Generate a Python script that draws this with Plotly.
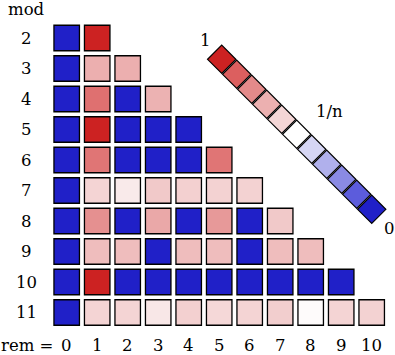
import math
import plotly.graph_objects as go

# ---- data -------------------------------------------------------------
moduli = [2, 3, 4, 5, 6, 7, 8, 9, 10, 11]
remainders = [0, 1, 2, 3, 4, 5, 6, 7, 8, 9, 10]

mod2 = [0, 1.0]
mod3 = [0, 0.52, 0.52]
mod4 = [0, 0.68, 0, 0.43]
mod5 = [0, 1.0, 0, 0, 0]
mod6 = [0, 0.58, 0, 0, 0, 0.58]
mod7 = [0, 0.215, 0.174, 0.242, 0.224, 0.219, 0.219]
mod8 = [0, 0.409, 0, 0.312, 0, 0.369, 0, 0.219]
mod9 = [0, 0.229, 0.229, 0, 0.229, 0.229, 0, 0.229, 0.229]
mod10 = [0, 1.0, 0, 0, 0, 0, 0, 0, 0, 0]
mod11 = [0, 0.150, 0.150, 0.121, 0.158, 0.143, 0.150, 0.162, 0.095, 0.150, 0.154]

rows = [mod2, mod3, mod4, mod5, mod6, mod7, mod8, mod9, mod10, mod11]

legend_labels = ["1", "1/n", "0"]
legend_levels = [1.0, 0.9, 0.8, 0.7, 0.6, 0.5, 0.4, 0.3, 0.2, 0.1, 0.0]

# ---- colour scale: 0 -> blue, 1/n -> white, 1 -> red (log) -------------
colorscale = [
    [0.0, "#2020C8"], [0.1, "#5C5CDC"], [0.2, "#8A8AE4"], [0.3, "#B0B0EC"],
    [0.4, "#D6D6F4"], [0.5, "#FFFFFF"], [0.6, "#F4D6D6"], [0.7, "#ECB0B0"],
    [0.8, "#E48A8A"], [0.9, "#DC5F5F"], [1.0, "#CC2222"],
]


def scale(v, n):
    if v <= 0:
        return 0.0
    c = 0.5 + 0.5 * math.log(v * n) / math.log(n)
    return max(0.0, min(1.0, c))


xs, ys, cs, hov = [], [], [], []
for n, vals in zip(moduli, rows):
    for r, v in zip(remainders, vals):
        xs.append(r)
        ys.append(n)
        cs.append(scale(v, n))
        hov.append(f"mod {n}, rem {r}: {v}")

# ---- pixel <-> data helpers (layout only) -----------------------------
W, H = 395, 355
X0, Y0, STEP = 66.7, 38.0, 30.5   # pixel centre of (rem 0, mod 2), pitch


def px_x(p):
    return (p - X0) / STEP


def px_y(p):
    return moduli[0] + (p - Y0) / STEP


FONT = "DejaVu Serif"
fig = go.Figure()

fig.add_trace(go.Scatter(
    x=xs, y=ys, mode="markers", text=hov, hoverinfo="text",
    marker=dict(symbol="square", size=25.5, color=cs, colorscale=colorscale,
                cmin=0, cmax=1, line=dict(color="#000000", width=1.3)),
    showlegend=False,
))

# diagonal colour key
kx = [px_x(221.7 + 15 * k) for k in range(len(legend_levels))]
ky = [px_y(59.3 + 15 * k) for k in range(len(legend_levels))]
fig.add_trace(go.Scatter(
    x=kx, y=ky, mode="markers", hoverinfo="skip",
    marker=dict(symbol="square", size=20, angle=45, color=legend_levels,
                colorscale=colorscale, cmin=0, cmax=1,
                line=dict(color="#000000", width=1.2)),
    showlegend=False,
))

ann = []
tf = dict(family=FONT, size=16.5, color="#000000")
ann.append(dict(x=px_x(26), y=px_y(9), text="mod", showarrow=False, font=tf))
for n in moduli:
    ann.append(dict(x=px_x(26), y=n, text=str(n), showarrow=False, font=tf))
for r in remainders:
    ann.append(dict(x=r, y=px_y(345), text=str(r), showarrow=False, font=tf))
ann.append(dict(x=0.0, y=px_y(345), xref="paper", text="rem =", xanchor="left",
                showarrow=False, font=tf, borderpad=0))
ann.append(dict(x=px_x(205), y=px_y(40), text=legend_labels[0], showarrow=False, font=tf))
ann.append(dict(x=px_x(329), y=px_y(111), text=legend_labels[1], showarrow=False, font=tf))
ann.append(dict(x=px_x(389), y=px_y(228), text=legend_labels[2], showarrow=False, font=tf))

fig.update_layout(
    width=W, height=H, margin=dict(l=0, r=0, t=0, b=0),
    paper_bgcolor="white", plot_bgcolor="white",
    xaxis=dict(range=[px_x(0), px_x(W)], visible=False, fixedrange=True),
    yaxis=dict(range=[px_y(H), px_y(0)], visible=False, fixedrange=True),
    annotations=ann,
)

fig.write_html("out.html")
